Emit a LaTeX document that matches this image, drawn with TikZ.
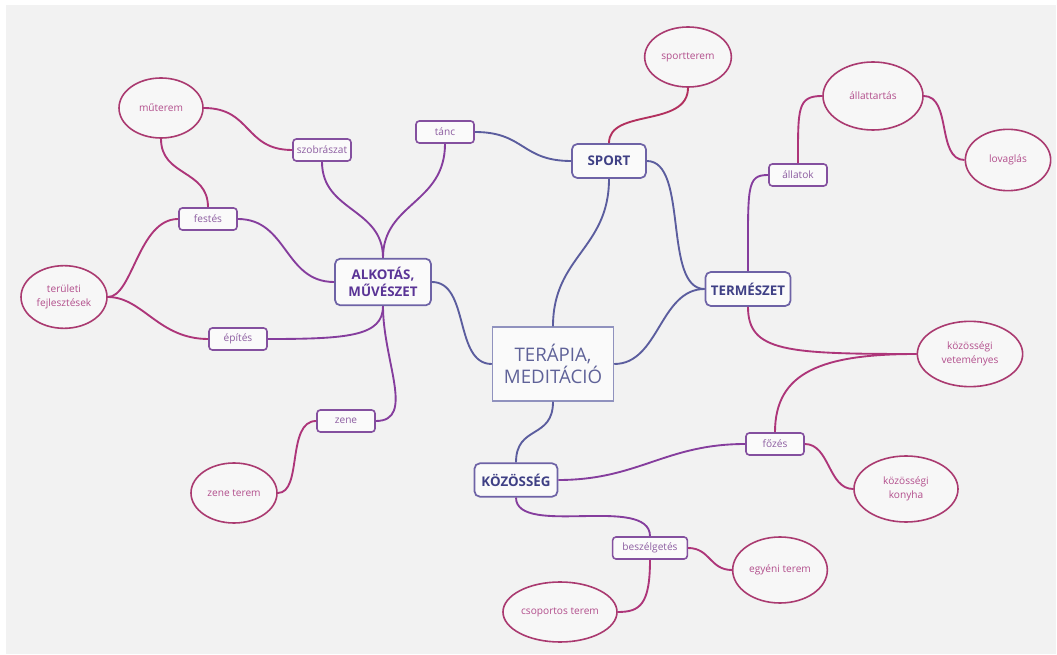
\documentclass[tikz,border=0pt]{standalone}
\usepackage{fontspec}
\setmainfont{Open Sans}
\usetikzlibrary{shapes.geometric}
\definecolor{bgc}{HTML}{F2F2F2}
\definecolor{hubd}{HTML}{9092BE}
\definecolor{hubt}{HTML}{5F6298}
\definecolor{maind}{HTML}{6E63A6}
\definecolor{maint}{HTML}{3F4085}
\definecolor{alkt}{HTML}{5A3496}
\definecolor{subd}{HTML}{84509F}
\definecolor{subt}{HTML}{8C5CA0}
\definecolor{leafd}{HTML}{AA3A70}
\definecolor{leaft}{HTML}{B24E8C}
\definecolor{lnav}{HTML}{5B5D9E}
\definecolor{lpur}{HTML}{853D9D}
\definecolor{lmag}{HTML}{AD3579}
\definecolor{lred}{HTML}{B2305E}
\tikzset{
  hubbox/.style={draw=hubd, line width=1.1pt, fill=white!60!bgc, text=hubt,
    font=\fontsize{14}{16.5}\selectfont, align=center, inner sep=0pt,
    minimum width=90.75pt, minimum height=55.5pt},
  mainbox/.style={draw=maind, line width=1.3pt, rounded corners=4pt, fill=white!60!bgc,
    text=maint, font=\fontsize{10}{12.5}\selectfont\bfseries, align=center, inner sep=0pt},
  subbox/.style={draw=subd, line width=1.2pt, rounded corners=2.5pt, fill=white!60!bgc,
    text=subt, font=\fontsize{7.6}{9}\selectfont, inner sep=0pt,
    minimum width=43.5pt, minimum height=16.5pt},
  leaf/.style={ellipse, draw=leafd, line width=1.2pt, fill=white!40!bgc,
    text=leaft, font=\fontsize{7.6}{10}\selectfont, align=center, inner sep=0pt},
  cnav/.style={draw=lnav, line width=1.4pt},
  cpur/.style={draw=lpur, line width=1.4pt},
  cmag/.style={draw=lmag, line width=1.4pt},
  cred/.style={draw=lred, line width=1.4pt},
}
\begin{document}
\begin{tikzpicture}[x=0.75pt, y=-0.75pt]
\useasboundingbox (0,0) rectangle (1057,655);
\fill[white] (0,0) rectangle (1057,655);
\fill[bgc] (6,5) rectangle (1056,654);

% central
\node[hubbox] (hub) at (553,364) {TERÁPIA,\\MEDITÁCIÓ};
% main topics
\node[mainbox, minimum width=55.5pt, minimum height=25.5pt] (sport) at (609,161) {SPORT};
\node[mainbox, text=alkt, minimum width=72pt, minimum height=35pt] (alk) at (383,282) {ALKOTÁS,\\MŰVÉSZET};
\node[mainbox, minimum width=63.75pt, minimum height=25.5pt] (term) at (748,289) {TERMÉSZET};
\node[mainbox, minimum width=62.25pt, minimum height=25pt] (koz) at (516,480) {KÖZÖSSÉG};
% sub topics
\node[subbox] (tanc) at (445,132) {tánc};
\node[subbox] (szob) at (322,150) {szobrászat};
\node[subbox] (festes) at (208,219) {festés};
\node[subbox] (epites) at (238,339) {építés};
\node[subbox] (zene) at (346,421) {zene};
\node[subbox] (allatok) at (798,175) {állatok};
\node[subbox] (fozes) at (775,444) {főzés};
\node[subbox, minimum width=56pt] (besz) at (650,548) {beszélgetés};
% leaves
\node[leaf, minimum width=63pt, minimum height=45pt] (muterem) at (161,108) {műterem};
\node[leaf, minimum width=64.5pt, minimum height=47pt] (terfej) at (64,297) {területi\\fejlesztések};
\node[leaf, minimum width=64.5pt, minimum height=45pt] (zeneterem) at (234,493) {zene terem};
\node[leaf, minimum width=65pt, minimum height=45pt] (sportterem) at (688,57) {sportterem};
\node[leaf, minimum width=75pt, minimum height=51pt] (allattartas) at (873,96) {állattartás};
\node[leaf, minimum width=64pt, minimum height=46pt] (lovaglas) at (1008,160) {lovaglás};
\node[leaf, minimum width=79pt, minimum height=49pt] (vetem) at (970,354) {közösségi\\veteményes};
\node[leaf, minimum width=78pt, minimum height=49.5pt] (konyha) at (906,489) {közösségi\\konyha};
\node[leaf, minimum width=71pt, minimum height=49.5pt] (egyeni) at (780,570) {egyéni terem};
\node[leaf, minimum width=85.5pt, minimum height=45pt] (csop) at (560,612) {csoportos terem};

% connectors: centre
\draw[cnav] (hub.north) .. controls +(0,-70) and +(0,70) .. (sport.south);
\draw[cnav] (alk.east) .. controls +(38,0) and +(-38,0) .. (hub.west);
\draw[cnav] (hub.east) .. controls +(45,0) and +(-45,0) .. (term.west);
\draw[cnav] (sport.east) .. controls +(42,0) and +(-42,0) .. (term.west);
\draw[cnav] (hub.south) .. controls +(0,38) and +(0,-38) .. (koz.north);
\draw[cnav] (sport.west) .. controls +(-50,0) and +(50,0) .. (tanc.east);
\draw[cred] (sport.north) .. controls +(0,-35) and +(0,40) .. (sportterem.south);
% ALKOTÁS
\draw[cpur] (alk.north) .. controls +(0,-55) and +(0,60) .. (tanc.south);
\draw[cpur] (alk.north) .. controls +(0,-50) and +(0,50) .. (szob.south);
\draw[cpur] (alk.west) .. controls +(-50,0) and +(50,0) .. (festes.east);
\draw[cpur] (alk.south) .. controls +(0,30) and +(80,0) .. (epites.east);
\draw[cpur] (alk.south) .. controls +(0,55) and +(40,0) .. (zene.east);
\draw[cmag] (szob.west) .. controls +(-48,0) and +(48,0) .. (muterem.east);
\draw[cmag] (festes.north) .. controls +(0,-38) and +(0,38) .. (muterem.south);
\draw[cmag] (festes.west) .. controls +(-40,0) and +(25,0) .. (terfej.east);
\draw[cmag] (epites.west) .. controls +(-50,0) and +(35,0) .. (terfej.east);
\draw[cmag] (zene.west) .. controls +(-30,0) and +(25,0) .. (zeneterem.east);
% TERMÉSZET
\draw[cpur] (term.north) .. controls +(0,-85) and +(-22,0) .. (allatok.west);
\draw[cmag] (allatok.north) .. controls +(0,-55) and +(-25,0) .. (allattartas.west);
\draw[cmag] (allattartas.east) .. controls +(28,0) and +(-28,0) .. (lovaglas.west);
\draw[cmag] (term.south) .. controls +(0,45) and +(-130,0) .. (vetem.west);
% KÖZÖSSÉG
\draw[cpur] (koz.east) .. controls +(80,0) and +(-80,0) .. (fozes.west);
\draw[cmag] (fozes.north) .. controls +(0,-60) and +(-95,0) .. (vetem.west);
\draw[cmag] (fozes.east) .. controls +(25,0) and +(-25,0) .. (konyha.west);
\draw[cpur] (koz.south) .. controls +(0,40) and +(0,-42) .. (besz.north);
\draw[cmag] (besz.east) .. controls +(22,0) and +(-22,0) .. (egyeni.west);
\draw[cmag] (besz.south) .. controls +(0,45) and +(22,0) .. (csop.east);
\end{tikzpicture}
\end{document}
